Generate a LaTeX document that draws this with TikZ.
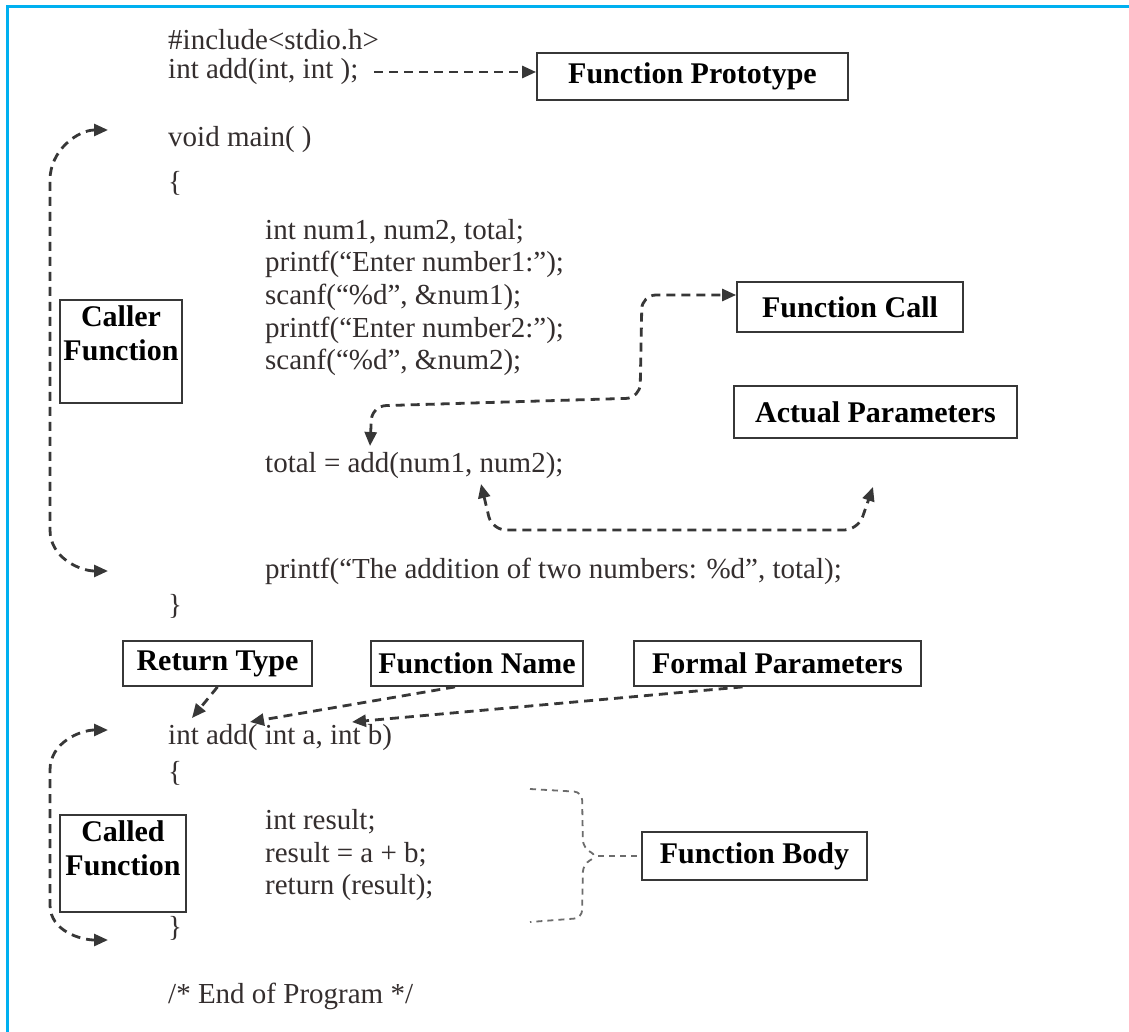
\documentclass[tikz,border=0pt]{standalone}
\usepackage{fontspec}
\setmainfont{Liberation Serif}
\usetikzlibrary{arrows.meta,positioning}
\definecolor{framecyan}{RGB}{0,176,240}
\definecolor{codegray}{RGB}{52,46,46}
\definecolor{linegray}{RGB}{55,55,55}

\begin{document}
\begin{tikzpicture}[
  x=1pt, y=-1pt,
  >={Triangle[length=14pt,width=12pt]},
  code/.style={
    anchor=west,
    inner sep=0pt,
    text=codegray,
    font=\fontsize{29}{34}\selectfont
  },
  lblbox/.style={
    draw=linegray,
    line width=1.8pt,
    inner sep=0pt,
    font=\fontsize{30}{34}\selectfont\bfseries
  },
  lbltext/.style={
    inner sep=0pt,
    align=center,
    font=\fontsize{30}{34}\selectfont\bfseries
  },
  flowarrow/.style={
    ->,
    draw=linegray,
    line width=2.8pt,
    dash pattern=on 9pt off 6pt
  },
  bothway/.style={
    flowarrow,
    <->
  },
  bracestyle/.style={
    draw=gray!85!black,
    line width=1.8pt,
    dash pattern=on 6pt off 5pt
  }
  ]

  \useasboundingbox (0,0) rectangle (1129,1032);
  \fill[white] (0,0) rectangle (1129,1032);
  \draw[framecyan, line width=3pt] (7,1032) -- (7,7) -- (1129,7);

  \node[code] (inc) at (168,40) {\#include<stdio.h>};
  \node[code] (proto) at (168,72) {int add(int, int );};
  \node[code] (mainhd) at (168,140) {void main( )};
  \node[code] (ob1) at (168,183) {\{};
  \node[code] (decl) at (265,232) {int num1, num2, total;};
  \node[code] (pr1) at (265,264) {printf(“Enter number1:”);};
  \node[code] (sc1) at (265,297) {scanf(“\%d”, \&num1);};
  \node[code] (pr2) at (265,330) {printf(“Enter number2:”);};
  \node[code] (sc2) at (265,362) {scanf(“\%d”, \&num2);};
  \node[code] (call) at (265,466) {total = add(num1, num2);};
  \node[code] (pr3) at (265,571) {printf(“The addition of two numbers: \%d”, total);};
  \node[code] (cb1) at (168,606) {\}};
  \node[code] (addhd) at (168,738) {int add( int a, int b)};
  \node[code] (ob2) at (168,773) {\{};
  \node[code] (res1) at (265,822) {int result;};
  \node[code] (res2) at (265,855) {result = a + b;};
  \node[code] (res3) at (265,888) {return (result);};
  \node[code] (cb2) at (168,928) {\}};
  \node[code] (endp) at (168,996) {/* End of Program */};

  \node[lblbox, minimum width=311, minimum height=47] (fproto) at (692.5,76.5) {Function Prototype};
  \node[lblbox, minimum width=226, minimum height=50] (fcall) at (850,307) {Function Call};
  \node[lblbox, minimum width=283, minimum height=52] (actual) at (875.5,412) {Actual Parameters};
  \node[lblbox, minimum width=122, minimum height=103] (caller) at (121,351.5) {};
  \node[lbltext, below=6pt of caller.north] (callertxt) {Caller\\Function};
  \node[lblbox, minimum width=189, minimum height=45] (rettype) at (217.5,663.5) {Return Type};
  \node[lblbox, minimum width=212, minimum height=45] (fname) at (477,663.5) {Function Name};
  \node[lblbox, minimum width=287, minimum height=45] (formal) at (777.5,663.5) {Formal Parameters};
  \node[lblbox, minimum width=225, minimum height=48] (fbody) at (754.5,856) {Function Body};
  \node[lblbox, minimum width=126, minimum height=97] (called) at (123,863.5) {};
  \node[lbltext, below=6pt of called.north] (calledtxt) {Called\\Function};

  \coordinate (protoend) at ([xshift=16pt]proto.east);
  \coordinate (cltop) at (108,130);
  \coordinate (clbot) at (108,571);
  \coordinate (cdtop) at (108,730);
  \coordinate (cdbot) at (108,940);
  \coordinate (calltip) at (370,446);
  \coordinate (numtip) at (481,484);
  \coordinate (acttip) at (873,487);
  \coordinate (rttip) at (192,718);
  \coordinate (fntip) at (250,722);
  \coordinate (fptip) at (352,722);
  \coordinate (bracetip) at (598,856);

  \draw[flowarrow] (protoend) -- (protoend -| fproto.west);
  \draw[bothway] (cltop) to[out=180,in=90] (50,180) -- (50,530) to[out=-90,in=180] (clbot);
  \draw[bothway] (cdtop) to[out=180,in=90] (50,770) -- (50,905) to[out=-90,in=180] (cdbot);
  \draw[bothway, rounded corners=14pt] (calltip) -- (372,406) -- (640,398) -- (642,295) -- ([yshift=12pt]fcall.west);
  \draw[bothway, rounded corners=14pt] (numtip) -- (492,530) -- (858,530) -- (acttip);
  \draw[flowarrow] (rettype.south) -- (rttip);
  \draw[flowarrow] ([xshift=-22pt]fname.south) -- (fntip);
  \draw[flowarrow] ([xshift=-35pt]formal.south) -- (fptip);

  \draw[bracestyle, rounded corners=8pt] (530,789) -- (582,792) -- (583,848) -- (bracetip) -- (583,864) -- (582,918) -- (530,922);
  \draw[bracestyle] (bracetip) -- (fbody.west);

\end{tikzpicture}
\end{document}
